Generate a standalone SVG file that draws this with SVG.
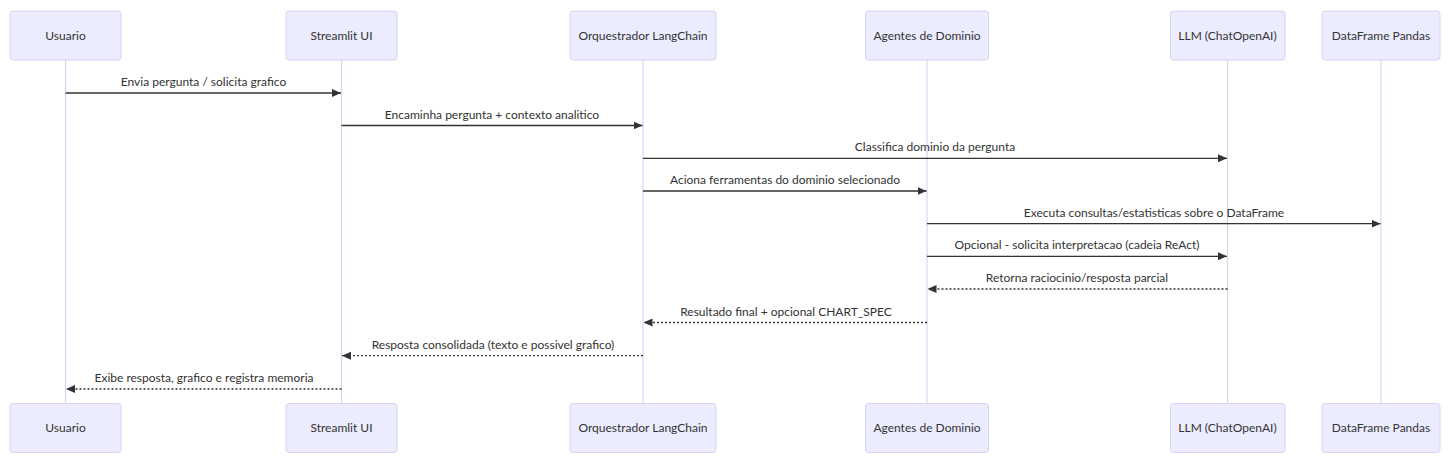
<svg xmlns="http://www.w3.org/2000/svg" width="1451" height="461" viewBox="0 0 1451 461">
<defs>
<style>
.actor{fill:#ECECFF;stroke:#DAD2F3;stroke-width:1}
.atext{font-family:Lato,"Liberation Sans",sans-serif;font-size:12px;fill:#333;text-anchor:middle}
.life{stroke:#DAD2F3;stroke-width:1.2;fill:none}
.msg{stroke:#333;stroke-width:1.3;fill:none}
.dash{stroke-dasharray:2,2}
.mtext{font-family:Lato,"Liberation Sans",sans-serif;font-size:12px;fill:#333;text-anchor:middle}
</style>
<marker id="ah" markerWidth="9" markerHeight="8" refX="9" refY="4" orient="auto" markerUnits="userSpaceOnUse">
<path d="M0,0 L9,4 L0,8 z" fill="#333"/>
</marker>
</defs>
<rect width="1451" height="461" fill="#fff"/>
<g id="lifelines">
<line class="life" x1="65.5" y1="60" x2="65.5" y2="403.5"/>
<line class="life" x1="341.5" y1="60" x2="341.5" y2="403.5"/>
<line class="life" x1="643" y1="60" x2="643" y2="403.5"/>
<line class="life" x1="927" y1="60" x2="927" y2="403.5"/>
<line class="life" x1="1227.5" y1="60" x2="1227.5" y2="403.5"/>
<line class="life" x1="1381" y1="60" x2="1381" y2="403.5"/>
</g>
<g id="actor-usuario">
<rect class="actor" x="10" y="11" width="111" height="49" rx="3"/>
<text class="atext" x="65.5" y="40">Usuario</text>
<rect class="actor" x="10" y="403.5" width="111" height="49" rx="3"/>
<text class="atext" x="65.5" y="432">Usuario</text>
</g>
<g id="actor-streamlit">
<rect class="actor" x="286" y="11" width="111" height="49" rx="3"/>
<text class="atext" x="341.5" y="40">Streamlit UI</text>
<rect class="actor" x="286" y="403.5" width="111" height="49" rx="3"/>
<text class="atext" x="341.5" y="432">Streamlit UI</text>
</g>
<g id="actor-orquestrador">
<rect class="actor" x="570" y="11" width="146" height="49" rx="3"/>
<text class="atext" x="643" y="40">Orquestrador LangChain</text>
<rect class="actor" x="570" y="403.5" width="146" height="49" rx="3"/>
<text class="atext" x="643" y="432">Orquestrador LangChain</text>
</g>
<g id="actor-agentes">
<rect class="actor" x="865.5" y="11" width="123" height="49" rx="3"/>
<text class="atext" x="927" y="40">Agentes de Dominio</text>
<rect class="actor" x="865.5" y="403.5" width="123" height="49" rx="3"/>
<text class="atext" x="927" y="432">Agentes de Dominio</text>
</g>
<g id="actor-llm">
<rect class="actor" x="1170.5" y="11" width="114.5" height="49" rx="3"/>
<text class="atext" x="1227.5" y="40">LLM (ChatOpenAI)</text>
<rect class="actor" x="1170.5" y="403.5" width="114.5" height="49" rx="3"/>
<text class="atext" x="1227.5" y="432">LLM (ChatOpenAI)</text>
</g>
<g id="actor-dataframe">
<rect class="actor" x="1322" y="11" width="118" height="49" rx="3"/>
<text class="atext" x="1381" y="40">DataFrame Pandas</text>
<rect class="actor" x="1322" y="403.5" width="118" height="49" rx="3"/>
<text class="atext" x="1381" y="432">DataFrame Pandas</text>
</g>
<g id="messages">
<line class="msg" x1="65.5" y1="93" x2="341" y2="93" marker-end="url(#ah)"/>
<text class="mtext" x="203.5" y="86">Envia pergunta / solicita grafico</text>
<line class="msg" x1="341.5" y1="125.5" x2="642.5" y2="125.5" marker-end="url(#ah)"/>
<text class="mtext" x="492" y="118.5">Encaminha pergunta + contexto analitico</text>
<line class="msg" x1="643" y1="158.3" x2="1227" y2="158.3" marker-end="url(#ah)"/>
<text class="mtext" x="935" y="151.3">Classifica dominio da pergunta</text>
<line class="msg" x1="643" y1="191" x2="926.5" y2="191" marker-end="url(#ah)"/>
<text class="mtext" x="785" y="184">Aciona ferramentas do dominio selecionado</text>
<line class="msg" x1="927" y1="223.7" x2="1380.5" y2="223.7" marker-end="url(#ah)"/>
<text class="mtext" x="1154" y="216.7">Executa consultas/estatisticas sobre o DataFrame</text>
<line class="msg" x1="927" y1="256.3" x2="1227" y2="256.3" marker-end="url(#ah)"/>
<text class="mtext" x="1077" y="249.3">Opcional - solicita interpretacao (cadeia ReAct)</text>
<line class="msg dash" x1="1227.5" y1="289" x2="927.5" y2="289" marker-end="url(#ah)"/>
<text class="mtext" x="1077" y="282">Retorna raciocinio/resposta parcial</text>
<line class="msg dash" x1="927" y1="322.5" x2="643.5" y2="322.5" marker-end="url(#ah)"/>
<text class="mtext" x="786" y="315.5">Resultado final + opcional CHART_SPEC</text>
<line class="msg dash" x1="643" y1="355.7" x2="342" y2="355.7" marker-end="url(#ah)"/>
<text class="mtext" x="493" y="348.7">Resposta consolidada (texto e possivel grafico)</text>
<line class="msg dash" x1="341.5" y1="389" x2="66" y2="389" marker-end="url(#ah)"/>
<text class="mtext" x="204" y="382">Exibe resposta, grafico e registra memoria</text>
</g>
</svg>
